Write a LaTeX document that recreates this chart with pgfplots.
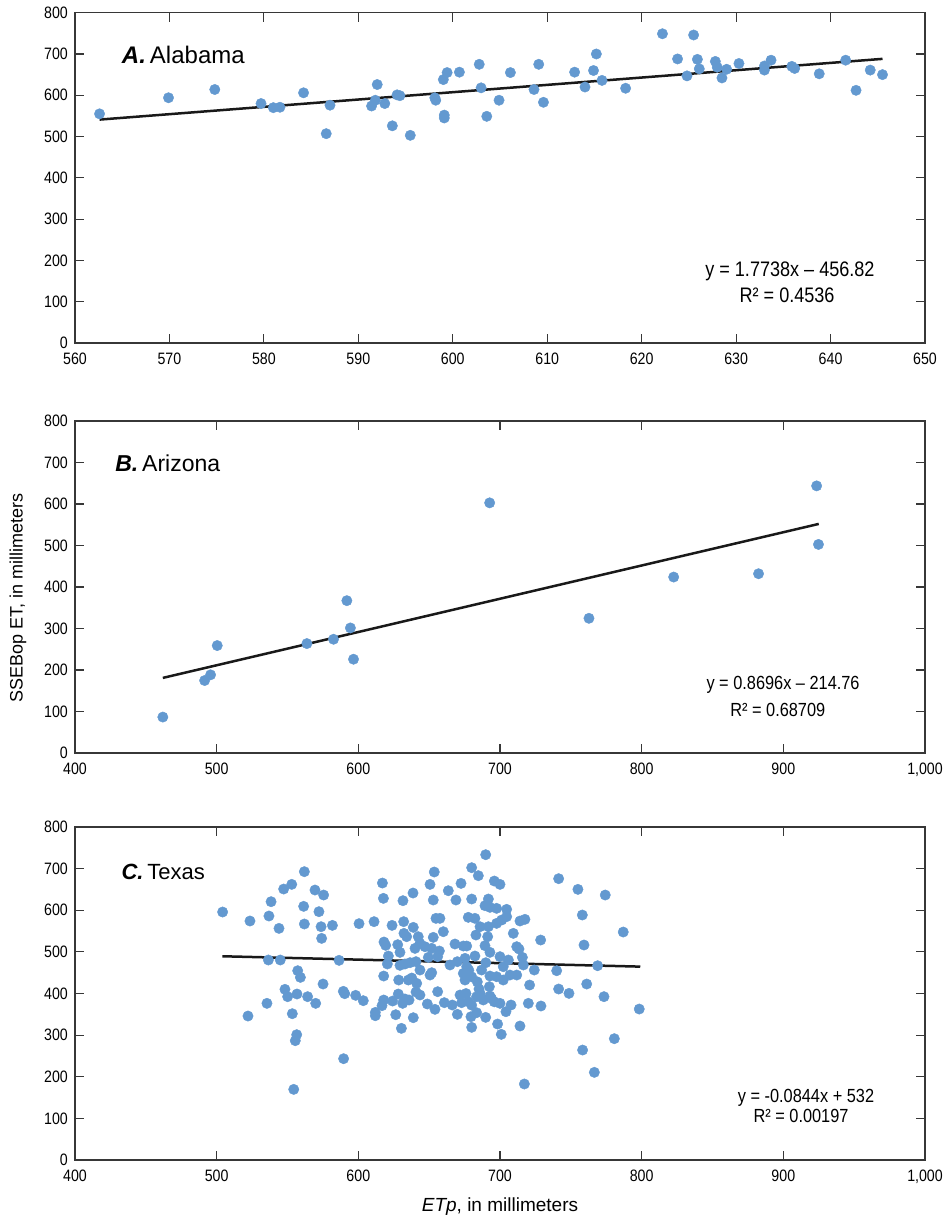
\documentclass[border=0pt]{standalone}
\usepackage{fontspec}
\setmainfont{Liberation Sans}
\newfontfamily\cond{Liberation Sans}[FakeStretch=0.86]
\usepackage{pgfplots}
\pgfplotsset{compat=1.18}
\definecolor{pt}{RGB}{99,153,208}
\definecolor{ax}{RGB}{55,55,55}
\pgfplotsset{
  myaxis/.style={
    scale only axis, width=850pt, anchor=south west,
    axis line style={ax, line width=1.4pt},
    tick style={ax, line width=1.2pt},
    tick align=inside, major tick length=9pt,
    ymin=0, ymax=800, ytick={0,100,...,800},
    tick label style={font=\cond\fontsize{16.5}{19}\selectfont, inner sep=1pt},
    xticklabel style={yshift=-9pt},
    yticklabel style={xshift=-6pt},
    /pgf/number format/assume math mode=true,
    /pgf/number format/1000 sep={,},
    clip=false,
  },
  dots/.style={only marks, mark=*, mark size=5.2pt, color=pt},
  trend/.style={black!90, line width=2.5pt},
}
\begin{document}
\begin{tikzpicture}
\useasboundingbox (0,0) rectangle (947pt,-1226pt);
% ---------------- A ----------------
\begin{axis}[myaxis, at={(75pt,-343pt)}, height=330.3pt,
  xmin=560, xmax=650, xtick={560,570,...,650}]
\addplot[dots] table {
562.6 555
569.9 594
574.8 614
579.7 580
581.0 570
581.7 571
584.2 606
586.6 507
587.0 576
591.4 574
591.8 588
592.0 626
592.8 580
593.6 526
594.1 601
594.4 599
595.5 503
598.1 594
598.2 588
599.1 552
599.1 545
599.0 638
599.4 655
600.7 656
602.8 675
603.0 618
603.6 549
604.9 588
606.1 655
608.6 614
609.1 675
609.6 583
612.9 656
614.0 620
614.9 660
615.2 700
615.8 636
618.3 617
622.2 749
623.8 688
624.8 647
625.5 746
625.9 687
626.1 664
627.8 682
628.0 668
628.5 642
629.0 663
630.3 677
633.0 671
633.0 661
633.7 685
635.9 670
636.2 665
638.8 652
641.6 685
642.7 612
644.2 661
645.5 650
};
\addplot[trend] coordinates {(562.6,541.1) (645.5,688.2)};
\node[anchor=base west, font=\fontsize{24}{28}\selectfont] at (axis cs:564.6,677.4) {\textbf{\textit{A.}}\,Alabama};
\node[anchor=base, font=\cond\fontsize{21}{24}\selectfont] at (axis cs:635.7,160.6) {y = 1.7738x – 456.82};
\node[anchor=base, font=\cond\fontsize{21}{24}\selectfont] at (axis cs:635.4,97.6) {R² = 0.4536};
\end{axis}
% ---------------- B ----------------
\begin{axis}[myaxis, at={(75pt,-753pt)}, height=332pt,
  xmin=400, xmax=1000, xtick={400,500,...,1000}]
\addplot[dots] table {
462.0 86.6
491.5 174.7
495.7 188.4
500.4 258.9
563.7 263.7
582.5 274.1
591.9 367.1
594.4 301.4
596.6 226.0
692.7 602.8
762.8 324.6
822.6 424.0
882.5 432.0
923.5 643.7
924.8 502.6
};
\addplot[trend] coordinates {(462,181) (925,552)};
\node[anchor=base west, font=\fontsize{23}{27}\selectfont] at (axis cs:426,679) {\textbf{\textit{B.}}\,Arizona};
\node[anchor=base, font=\cond\fontsize{19}{22}\selectfont] at (axis cs:899.8,153.3) {y = 0.8696x – 214.76};
\node[anchor=base, font=\cond\fontsize{19}{22}\selectfont] at (axis cs:896.1,89) {R² = 0.68709};
\node[xshift=-57pt, yshift=-11pt, rotate=90, anchor=center, font=\fontsize{18}{21}\selectfont] at (rel axis cs:0,0.5) {SSEBop ET, in millimeters};
\end{axis}
% ---------------- C ----------------
\begin{axis}[myaxis, at={(75pt,-1160pt)}, height=333pt,
  xmin=400, xmax=1000, xtick={400,500,...,1000}]
\addplot[dots] table {
504.2 595.8
523.5 574.2
536.9 586.2
538.4 620.6
544.0 556.5
547.3 651.0
553.0 662.2
561.9 692.7
561.4 609.4
561.9 567.0
569.4 648.6
575.5 636.6
572.2 596.6
573.7 560.5
581.7 563.7
574.1 532.5
536.5 480.5
544.9 480.5
557.2 454.8
559.1 438.8
575.1 422.8
548.2 410.0
550.1 392.4
556.7 398.8
564.2 392.4
569.9 376.4
535.5 376.4
522.1 345.9
553.4 351.5
556.5 301.1
555.5 286.7
554.4 169.7
586.4 479.7
589.4 405.2
590.4 399.6
598.1 395.6
603.5 382.8
589.6 243.4
600.5 567.8
611.1 572.6
612.0 354.7
612.0 346.7
617.0 665.4
617.7 628.6
631.5 623.0
638.6 641.4
623.8 563.7
632.0 572.6
638.8 558.9
618.1 523.7
619.3 515.7
627.8 517.3
632.2 544.5
634.1 536.5
629.4 498.9
640.0 508.5
621.2 490.1
620.5 470.9
629.4 467.7
636.5 474.1
617.9 442.0
628.5 432.4
635.3 432.4
637.7 437.2
641.2 424.4
640.7 403.6
628.2 398.8
632.9 386.8
635.8 384.4
631.3 376.4
617.9 384.4
616.7 370.8
624.2 381.9
626.4 349.1
638.8 341.9
630.4 316.3
689.9 733.5
653.6 691.9
680.0 702.3
684.7 683.1
650.6 662.2
672.5 664.6
696.0 670.2
700.0 662.2
663.5 647.0
652.9 624.6
668.9 624.6
680.0 627.0
691.8 627.0
689.4 611.0
692.9 607.0
697.6 604.6
704.7 602.2
654.8 580.6
657.6 580.6
677.6 583.0
682.3 580.6
685.9 560.5
691.8 560.5
697.6 568.5
701.2 576.6
704.7 584.6
714.1 574.2
717.6 578.2
660.0 548.5
683.0 540.5
691.3 536.5
709.4 544.5
642.3 536.5
652.9 534.9
643.5 520.5
647.0 512.5
651.8 508.5
657.2 502.1
668.2 518.9
674.1 514.1
676.5 514.1
689.4 514.9
692.9 498.9
711.8 512.5
713.4 506.9
728.7 528.5
758.1 588.6
741.4 675.9
755.0 650.2
774.3 636.6
787.0 547.7
759.3 516.5
649.4 486.9
656.0 488.5
675.3 484.5
682.3 490.1
700.0 488.5
705.9 480.5
715.8 486.9
632.9 470.9
640.7 476.5
664.7 468.5
669.9 476.5
676.5 464.4
687.0 456.4
702.3 464.4
716.5 468.5
724.2 456.4
740.0 454.8
768.9 466.8
643.5 456.4
651.8 450.0
674.1 448.4
675.3 432.4
650.6 444.4
692.9 442.0
697.6 440.4
707.0 444.4
711.8 444.4
702.3 432.4
720.9 420.4
741.4 410.8
748.7 400.4
761.2 422.8
773.4 392.4
798.3 362.7
656.0 404.4
671.8 396.4
685.2 410.8
692.5 416.4
643.5 396.4
648.7 374.8
654.1 362.0
660.7 378.0
666.3 372.4
672.9 378.0
677.6 380.4
683.5 392.4
688.2 384.4
692.9 394.0
700.0 376.4
704.2 356.3
707.8 372.4
669.9 349.9
679.5 344.3
683.5 353.9
689.9 342.7
680.0 318.7
698.3 326.7
700.9 301.9
714.1 321.9
720.0 376.4
728.9 370.0
717.2 182.6
758.3 264.2
766.6 210.6
780.7 291.5
680.0 440.0
684.0 428.0
690.0 474.0
678.0 456.0
686.0 400.0
694.0 388.0
680.0 372.0
676.0 400.0
696.0 380.0
};
\addplot[trend] coordinates {(504,489.5) (799,464.6)};
\node[anchor=base west, font=\fontsize{22}{26}\selectfont] at (axis cs:430.4,675) {\textbf{\textit{C.}}\,Texas};
\node[anchor=base, font=\cond\fontsize{19}{22}\selectfont] at (axis cs:916,138) {y = -0.0844x + 532};
\node[anchor=base, font=\cond\fontsize{19}{22}\selectfont] at (axis cs:912.5,90) {R² = 0.00197};
\node[anchor=base, font=\fontsize{19}{22}\selectfont] at (rel axis cs:0.5,0) [yshift=-51pt] {\textit{ETp}, in millimeters};
\end{axis}
\end{tikzpicture}
\end{document}
